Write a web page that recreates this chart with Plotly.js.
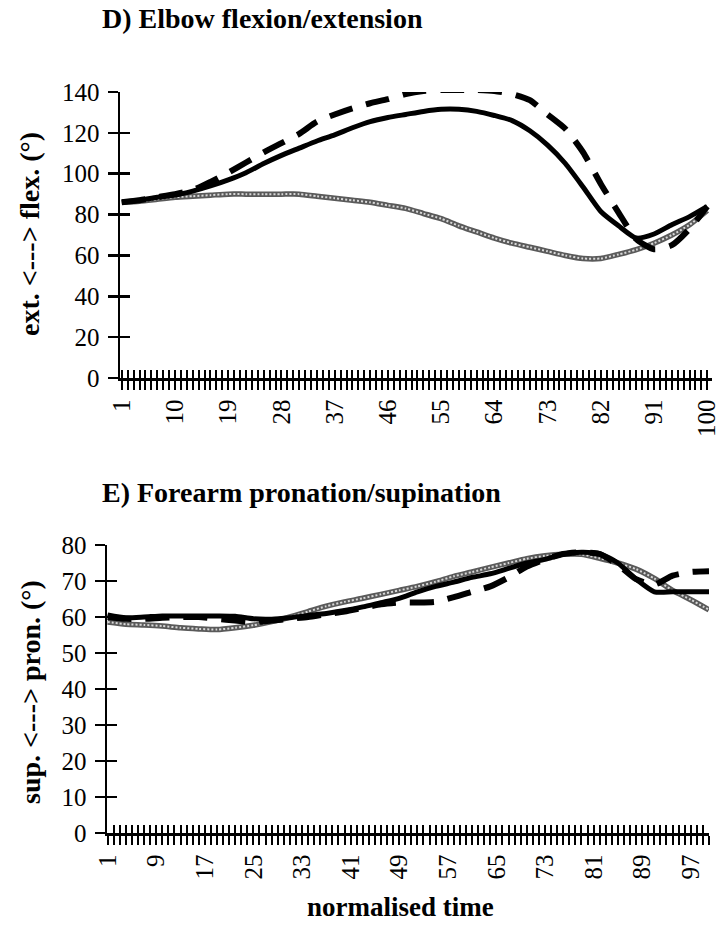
<!DOCTYPE html>
<html>
<head>
<meta charset="utf-8">
<script src="https://cdn.plot.ly/plotly-3.0.1.min.js"></script>
<style>
  html, body { margin: 0; padding: 0; background: #ffffff; }
  #chart { width: 720px; height: 935px; }
</style>
</head>
<body>
<div id="chart"></div>
<script>
// Sampled points along normalised time (1..100)
const timeSteps = [1, 4, 7, 10, 13, 16, 19, 22, 25, 28, 31, 34, 37, 40, 43, 46, 49, 52, 55, 58,
                   61, 64, 67, 70, 73, 76, 79, 82, 85, 88, 91, 94, 97, 100];

// D) Elbow flexion/extension (degrees)
const elbowSolid = [86, 87, 88.5, 89.5, 91.5, 94, 97, 100.5, 105, 109, 112.5, 116, 119, 122.5, 125.5, 127.5, 129, 130.5, 131.5, 131.5,
                    130.5, 128.5, 126, 121, 114, 105, 93.5, 81.5, 74.5, 68.5, 70.5, 75, 79, 84];
const elbowDashed = [86, 87, 88.5, 90, 92, 96, 100.5, 105.5, 110.5, 115, 119.5, 125.5, 129, 132, 134.5, 136.5, 139, 140.5, 141, 141,
                     141, 140.5, 139, 136, 129, 122, 110.5, 95, 81, 68, 63, 65, 73, 84];
const elbowGrey = [86, 86.5, 87.5, 88.5, 89, 89.5, 90, 90, 90, 90, 90, 89, 88, 87, 86, 84.5, 83, 80.5, 78, 74.5,
                   71.5, 68.5, 66, 64, 62, 60, 58.5, 58.5, 60.5, 62.8, 66, 70, 75, 82];

// E) Forearm pronation/supination (degrees)
const forearmSolid = [60.6, 59.8, 60, 60.3, 60.3, 60.3, 60.3, 60.2, 59.5, 59.4, 59.8, 60.4, 61, 61.8, 62.8, 64, 65.2, 67, 68.5, 69.7,
                      71, 72, 73.5, 75, 76, 77.5, 78, 77.6, 75, 70.5, 67, 67, 67, 67];
const forearmDashed = [60, 59.5, 59.5, 59.8, 60, 60, 59.5, 59, 58.5, 59, 59.5, 60, 60.8, 61.5, 62.5, 63.5, 64, 64, 64.2, 65.5,
                       67, 68.5, 71, 74, 76, 77.5, 78, 77.5, 74.5, 70.5, 69, 71.5, 72.5, 72.7];
const forearmGrey = [58.6, 58, 57.8, 57.5, 57, 56.7, 56.5, 57, 57.7, 58.7, 60, 61.5, 63, 64.2, 65.2, 66.3, 67.4, 68.5, 69.8, 71.3,
                     72.5, 73.8, 75, 76.2, 77, 77.4, 77.4, 76.3, 75, 73.3, 70.7, 67.4, 64.8, 62];

// Category axis labels
const elbowTicks = [1, 10, 19, 28, 37, 46, 55, 64, 73, 82, 91, 100];
const forearmTicks = [1, 9, 17, 25, 33, 41, 49, 57, 65, 73, 81, 89, 97];

const FONT = 'Liberation Serif, Times New Roman, serif';
const BLACK = '#000000';

function seriesTraces(xa, ya, solid, dashed, grey) {
  const base = { x: timeSteps, mode: 'lines', xaxis: xa, yaxis: ya, showlegend: false, hoverinfo: 'skip' };
  const smooth = { shape: 'spline', smoothing: 0.6 };
  return [
    // patterned grey line: dark body with a fine light stipple on top
    Object.assign({}, base, { y: grey, line: Object.assign({ color: '#5a5a5a', width: 5.5 }, smooth) }),
    Object.assign({}, base, { y: grey, line: Object.assign({ color: '#d8d8d8', width: 2, dash: '2px,2px' }, smooth) }),
    Object.assign({}, base, { y: solid, line: Object.assign({ color: BLACK, width: 5 }, smooth) }),
    Object.assign({}, base, { y: dashed, line: Object.assign({ color: BLACK, width: 6, dash: '24px,14px' }, smooth) })
  ];
}

// empty traces that carry the inner half of the crossing tick marks
const tickCarrier = (xa, ya) => ({ x: [], y: [], xaxis: xa, yaxis: ya, showlegend: false, hoverinfo: 'skip', mode: 'lines' });

const data = [].concat(
  seriesTraces('x', 'y', elbowSolid, elbowDashed, elbowGrey),
  seriesTraces('x2', 'y2', forearmSolid, forearmDashed, forearmGrey),
  [tickCarrier('x3', 'y3'), tickCarrier('x4', 'y4')]
);

function catAxis(domain, anchor, range, ticks) {
  return {
    domain: domain, anchor: anchor, range: range,
    tickmode: 'array', tickvals: ticks, ticktext: ticks.map(String), tickangle: -90,
    ticks: 'outside', ticklen: 9, tickwidth: 2, tickcolor: BLACK,
    minor: { tickmode: 'linear', tick0: 0, dtick: 1, ticks: 'outside', ticklen: 9, tickwidth: 2, tickcolor: BLACK },
    showline: true, linewidth: 2.5, linecolor: BLACK,
    showgrid: false, zeroline: false, ticklabeloverflow: 'allow',
    tickfont: { family: FONT, size: 25, color: BLACK }
  };
}
function innerCatAxis(over, anchor, range) {
  return {
    overlaying: over, anchor: anchor, range: range,
    tickmode: 'linear', tick0: 0, dtick: 1, ticks: 'inside', ticklen: 8, tickwidth: 2, tickcolor: BLACK,
    showticklabels: false, showline: false, showgrid: false, zeroline: false
  };
}
function valAxis(domain, anchor, range, dtick) {
  return {
    domain: domain, anchor: anchor, range: range, dtick: dtick, tickmode: 'linear', tick0: 0,
    ticks: 'outside', ticklen: 10, tickwidth: 2.5, tickcolor: BLACK,
    showline: true, linewidth: 2.5, linecolor: BLACK,
    showgrid: false, zeroline: false, ticklabelstandoff: 3,
    tickfont: { family: FONT, size: 25, color: BLACK }
  };
}
function innerValAxis(over, anchor, range, dtick) {
  return {
    overlaying: over, anchor: anchor, range: range, dtick: dtick, tickmode: 'linear', tick0: 0,
    ticks: 'inside', ticklen: 10, tickwidth: 2.5, tickcolor: BLACK,
    showticklabels: false, showline: false, showgrid: false, zeroline: false
  };
}

const topX = [0.7, 100.8], botX = [0.9, 100];
const topY = [0, 140], botY = [0, 80];

const layout = {
  width: 720, height: 935,
  margin: { l: 0, r: 0, t: 0, b: 0 },
  paper_bgcolor: '#ffffff', plot_bgcolor: '#ffffff',
  font: { family: FONT, color: BLACK },
  xaxis: catAxis([120 / 720, 712 / 720], 'y', topX, elbowTicks),
  yaxis: valAxis([1 - 378 / 935, 1 - 92 / 935], 'x', topY, 20),
  xaxis3: innerCatAxis('x', 'y3', topX),
  yaxis3: innerValAxis('y', 'x3', topY, 20),
  xaxis2: catAxis([107 / 720, 709 / 720], 'y2', botX, forearmTicks),
  yaxis2: valAxis([1 - 833 / 935, 1 - 545 / 935], 'x2', botY, 10),
  xaxis4: innerCatAxis('x2', 'y4', botX),
  yaxis4: innerValAxis('y2', 'x4', botY, 10),
  annotations: [
    { text: '<b>D) Elbow flexion/extension</b>', xref: 'paper', yref: 'paper', x: 100 / 720, y: 1 - 19 / 935,
      xanchor: 'left', yanchor: 'middle', showarrow: false, font: { family: FONT, size: 28, color: BLACK } },
    { text: '<b>E) Forearm pronation/supination</b>', xref: 'paper', yref: 'paper', x: 100 / 720, y: 1 - 493 / 935,
      xanchor: 'left', yanchor: 'middle', showarrow: false, font: { family: FONT, size: 28, color: BLACK } },
    { text: '<b>ext. <---> flex. (°)</b>', xref: 'paper', yref: 'paper', x: 30 / 720, y: 1 - 234 / 935,
      xanchor: 'center', yanchor: 'middle', textangle: -90, showarrow: false, font: { family: FONT, size: 28, color: BLACK } },
    { text: '<b>sup. <---> pron. (°)</b>', xref: 'paper', yref: 'paper', x: 30 / 720, y: 1 - 692 / 935,
      xanchor: 'center', yanchor: 'middle', textangle: -90, showarrow: false, font: { family: FONT, size: 28, color: BLACK } },
    { text: '<b>normalised time</b>', xref: 'paper', yref: 'paper', x: 400 / 720, y: 1 - 907 / 935,
      xanchor: 'center', yanchor: 'middle', showarrow: false, font: { family: FONT, size: 27, color: BLACK } }
  ]
};

Plotly.newPlot('chart', data, layout, { staticPlot: true, displayModeBar: false });
</script>
</body>
</html>
